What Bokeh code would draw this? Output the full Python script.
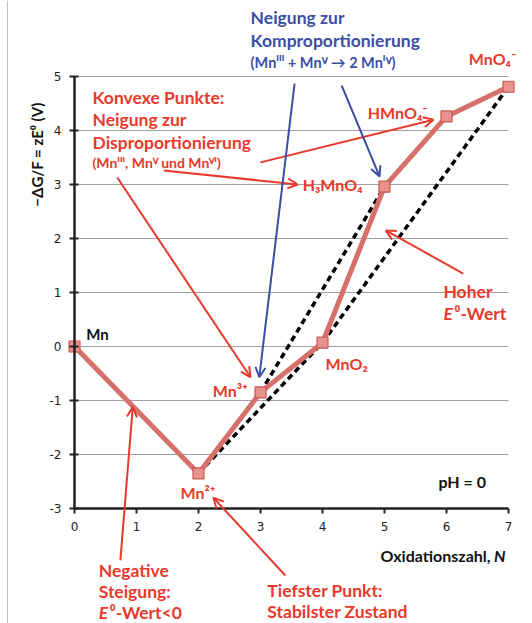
from bokeh.plotting import figure
from bokeh.models import Label, Arrow, OpenHead, Range1d, FixedTicker, Span, CustomJSTickFormatter
from bokeh.embed import file_html
from bokeh.resources import INLINE

# ---- data ----
N = [0, 2, 3, 4, 5, 6, 7]
dG = [0.0, -2.35, -0.85, 0.07, 2.96, 4.26, 4.81]
species = ["Mn", "Mn²⁺", "Mn³⁺", "MnO₂", "H₃MnO₄", "HMnO₄⁻", "MnO₄⁻"]
hull_idx = [1, 3, 6]       # Mn2+ -> MnO2 -> MnO4-
compro_idx = [2, 4]        # Mn3+ -> H3MnO4
x_ticks = [0, 1, 2, 3, 4, 5, 6, 7]
y_ticks = [-3, -2, -1, 0, 1, 2, 3, 4, 5]

RED = "#e8392b"
BLUE = "#3b4ea3"
FONT = "Lato"

W, H = 532, 623
X0PX, XUNIT = 74, 62.0     # pixel of x=0, pixels per unit
Y5PX, YUNIT = 76, 54.0     # pixel of y=5, pixels per unit
xr = Range1d(-X0PX / XUNIT, (W - X0PX) / XUNIT)
yr = Range1d(5 - (H - Y5PX) / YUNIT, 5 + Y5PX / YUNIT)

p = figure(width=W, height=H, x_range=xr, y_range=yr,
           output_backend="svg", toolbar_location=None,
           min_border_left=0, min_border_right=0, min_border_top=0, min_border_bottom=0)
p.outline_line_color = None
p.background_fill_color = "white"
p.xgrid.visible = False
p.ygrid.visible = False

# horizontal grid lines limited to the axis extent
p.segment(x0=[x_ticks[0]] * len(y_ticks), x1=[x_ticks[-1]] * len(y_ticks),
          y0=y_ticks, y1=y_ticks, line_color="#a0a0a0", line_width=1)

p.xaxis.ticker = FixedTicker(ticks=x_ticks)
p.yaxis.ticker = FixedTicker(ticks=y_ticks)
p.xaxis.fixed_location = y_ticks[0]
p.yaxis.fixed_location = x_ticks[0]
p.xaxis.bounds = (x_ticks[0], x_ticks[-1])
p.yaxis.bounds = (y_ticks[0], y_ticks[-1])
fmt = CustomJSTickFormatter(code="return tick.toString();")
for ax in (p.xaxis[0], p.yaxis[0]):
    ax.formatter = fmt
    ax.axis_line_width = 2.5
    ax.axis_line_color = "#222222"
    ax.major_tick_line_width = 2
    ax.major_tick_line_color = "#222222"
    ax.minor_tick_line_color = None
    ax.major_label_text_font = "DejaVu Sans"
    ax.major_label_text_font_size = "12px"
    ax.major_label_text_color = "#222222"
p.xaxis.major_tick_out = 5
p.xaxis.major_tick_in = 0
p.yaxis.major_tick_out = 5
p.yaxis.major_tick_in = 4
p.xaxis.major_label_standoff = 8
p.yaxis.major_label_standoff = 8

# faint page border on the left
p.add_layout(Span(location=-67 / XUNIT, dimension="height", line_color="#c0c0c0", line_width=1))

# dashed reference lines
p.line([N[i] for i in hull_idx], [dG[i] for i in hull_idx], line_color="black",
       line_width=3.5, line_dash="6 4")
p.line([N[i] for i in compro_idx], [dG[i] for i in compro_idx], line_color="black",
       line_width=3.5, line_dash="6 4")

# main line + markers
p.line(N, dG, line_color="#d6706a", line_width=5)
p.scatter(N, dG, marker="square", size=11, fill_color="#e9918c", line_color="#c85a54", line_width=1.2)


def lab(x, y, text, color=RED, size=17.5, style="bold", align="left", angle=0, font=FONT):
    p.add_layout(Label(x=x, y=y, text=text, text_color=color, text_font=font,
                       text_font_size=f"{size}px", text_font_style=style,
                       text_align=align, text_baseline="middle", angle=angle))


def arr(x0, y0, x1, y1, color):
    p.add_layout(Arrow(end=OpenHead(size=10, line_color=color, line_width=2),
                       x_start=x0, y_start=y0, x_end=x1, y_end=y1,
                       line_color=color, line_width=2))


# species labels
SP = 16
lab(0.19, 0.24, species[0], color="#111111", size=15)
lab(1.99, -2.70, species[1], size=SP, align="center")
lab(2.79, -0.81, species[2], size=SP, align="right")
lab(4.05, -0.31, species[3], size=SP)
lab(3.68, 3.00, species[4], size=SP)
lab(4.73, 4.33, species[5], size=SP)
lab(6.36, 5.33, species[6], size=SP)

lab(5.87, -2.50, "pH = 0", color="#111111", size=16)
lab(6.71, -3.87, "Oxidationszahl,", color="#111111", size=16, align="right")
lab(6.95, -3.87, "N", color="#111111", size=16, style="bold italic", align="right")
lab(-0.61, 3.59, "−ΔG/F = zE⁰  (V)", color="#111111", size=15, align="center", angle=1.5708)

# red annotation blocks
lab(0.29, 4.61, "Konvexe Punkte:")
lab(0.29, 4.20, "Neigung zur")
lab(0.29, 3.78, "Disproportionierung")
lab(0.29, 3.41, "(Mnᴵᴵᴵ, Mnⱽ und Mnⱽᴵ)", size=14)

lab(5.95, 1.02, "Hoher")
lab(5.95, 0.61, "E", style="bold italic")
lab(6.13, 0.61, "⁰-Wert")

lab(0.39, -4.15, "Negative")
lab(0.39, -4.53, "Steigung:")
lab(0.39, -4.93, "E", style="bold italic")
lab(0.57, -4.93, "⁰-Wert<0")

lab(3.11, -4.52, "Tiefster Punkt:")
lab(3.11, -4.90, "Stabilster Zustand")

# blue annotation block
lab(2.84, 6.09, "Neigung zur", color=BLUE)
lab(2.84, 5.67, "Komproportionierung", color=BLUE)
lab(2.84, 5.26, "(Mnᴵᴵᴵ + Mnⱽ → 2 Mnᴵⱽ)", color=BLUE, size=14.5)

# arrows
arr(0.69, 3.13, 2.84, -0.57, RED)
arr(1.44, 3.26, 3.60, 3.00, RED)
arr(3.00, 3.41, 5.79, 4.20, RED)
arr(6.27, 1.35, 5.02, 2.15, RED)
arr(0.74, -3.96, 0.94, -1.12, RED)
arr(3.40, -4.24, 2.24, -2.80, RED)
arr(3.55, 4.87, 2.98, -0.57, BLUE)
arr(4.31, 4.83, 4.92, 3.15, BLUE)

open("out.html", "w").write(file_html(p, INLINE))
